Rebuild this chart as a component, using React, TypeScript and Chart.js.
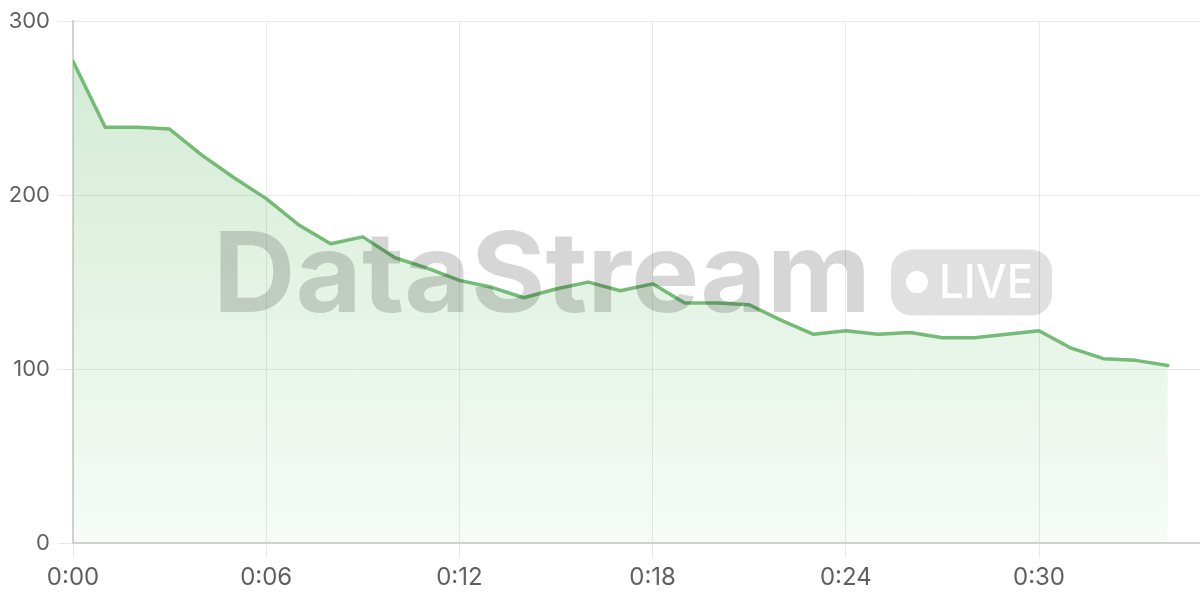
import React, { useEffect, useRef } from "react";
import { Chart, registerables } from "chart.js";

Chart.register(...registerables);

const MINUTES = [0, 1, 2, 3, 4, 5, 6, 7, 8, 9, 10, 11, 12, 13, 14, 15, 16, 17, 18, 19, 20, 21, 22, 23, 24, 25, 26, 27, 28, 29, 30, 31, 32, 33, 34];
const VALUES = [277, 239, 239, 238, 223, 210, 198, 183, 172, 176, 164, 158, 151, 147, 141, 146, 150, 145, 149, 138, 138, 137, 128, 120, 122, 120, 121, 118, 118, 120, 122, 112, 106, 105, 102];
const X_TICKS = [0, 6, 12, 18, 24, 30];
const Y_TICKS = [0, 100, 200, 300];
const X_MAX = 35;
const WATERMARK_TEXT = "DataStream";
const BADGE_TEXT = "LIVE";

const LINE_COLOR = "#74bb76";

const fmtTime = (v: number) => `${Math.floor(v / 60)}:${String(v % 60).padStart(2, "0")}`;

const watermarkPlugin = {
  id: "watermark",
  afterDraw(chart: any) {
    const { ctx, chartArea } = chart;
    if (!chartArea) return;
    const cx = (chartArea.left + chartArea.right) / 2 - 4;
    const cy = (chartArea.top + chartArea.bottom) / 2;
    ctx.save();
    const textTargetW = 658;
    ctx.font = "bold 111px Inter";
    const tw = ctx.measureText(WATERMARK_TEXT).width;
    const gap = 20;
    const pillW = 161;
    const pillH = 66;
    const groupW = textTargetW + gap + pillW;
    const gx = cx - groupW / 2;
    ctx.fillStyle = "rgba(0,0,0,0.16)";
    ctx.textBaseline = "alphabetic";
    ctx.textAlign = "left";
    ctx.save();
    ctx.translate(gx, cy + 30);
    ctx.scale(textTargetW / tw, 1);
    ctx.fillText(WATERMARK_TEXT, 0, 0);
    ctx.restore();
    const px = gx + textTargetW + gap;
    const py = cy - pillH / 2 + 0.5;
    ctx.fillStyle = "rgba(0,0,0,0.12)";
    ctx.beginPath();
    ctx.roundRect(px, py, pillW, pillH, 21);
    ctx.fill();
    ctx.fillStyle = "#ffffff";
    ctx.beginPath();
    ctx.arc(px + 26, cy, 11, 0, Math.PI * 2);
    ctx.fill();
    ctx.font = "500 46px Inter";
    const lw = ctx.measureText(BADGE_TEXT).width;
    const liveW = 94;
    ctx.save();
    ctx.translate(px + 48, cy + 16);
    ctx.scale(liveW / lw, 1);
    ctx.fillText(BADGE_TEXT, 0, 0);
    ctx.restore();
    ctx.restore();
  },
};

export default function App() {
  const canvasRef = useRef<HTMLCanvasElement | null>(null);

  useEffect(() => {
    document.body.style.margin = "0";
    const canvas = canvasRef.current;
    if (!canvas) return;
    const chart = new Chart(canvas, {
      type: "line",
      data: {
        datasets: [
          {
            data: MINUTES.map((m, i) => ({ x: m, y: VALUES[i] })),
            borderColor: LINE_COLOR,
            borderWidth: 3.5,
            borderJoinStyle: "round",
            borderCapStyle: "round",
            pointRadius: 0,
            tension: 0,
            fill: "origin",
            backgroundColor: (c: any) => {
              const { chart: ch } = c;
              const area = ch.chartArea;
              if (!area) return "rgba(102,187,106,0.2)";
              const g = ch.ctx.createLinearGradient(0, area.top, 0, area.bottom);
              g.addColorStop(0, "rgba(102,187,106,0.30)");
              g.addColorStop(1, "rgba(102,187,106,0.06)");
              return g;
            },
          },
        ],
      },
      options: {
        animation: false,
        responsive: false,
        maintainAspectRatio: false,
        layout: { padding: { top: 7, right: 0, left: 0, bottom: 0 } },
        plugins: {
          legend: { display: false },
          tooltip: { enabled: false },
        },
        scales: {
          x: {
            type: "linear",
            min: 0,
            max: X_MAX,
            afterBuildTicks: (scale: any) => {
              scale.ticks = X_TICKS.map((v) => ({ value: v }));
            },
            afterFit: (scale: any) => {
              scale.height = 57;
            },
            grid: { color: "#e8e8e8", lineWidth: 1, tickLength: 15 },
            border: { color: "#d2d2d2", width: 2 },
            ticks: {
              padding: 5,
              color: "#606060",
              font: { family: "Inter", size: 24 },
              callback: (v: any) => fmtTime(Number(v)),
              maxRotation: 0,
            },
          },
          y: {
            min: 0,
            max: 300,
            afterBuildTicks: (scale: any) => {
              scale.ticks = Y_TICKS.map((v) => ({ value: v }));
            },
            afterFit: (scale: any) => {
              scale.width = 73;
            },
            grid: { color: "#e8e8e8", lineWidth: 1, tickLength: 15 },
            border: { color: "#d2d2d2", width: 2 },
            ticks: {
              padding: 8,
              color: "#606060",
              font: { family: "Inter", size: 22 },
            },
          },
        },
      },
      plugins: [watermarkPlugin],
    });
    return () => chart.destroy();
  }, []);

  return (
    <div style={{ width: 1200, height: 600 }}>
      <canvas ref={canvasRef} width={1200} height={600} style={{ display: "block", width: 1200, height: 600 }} />
    </div>
  );
}
